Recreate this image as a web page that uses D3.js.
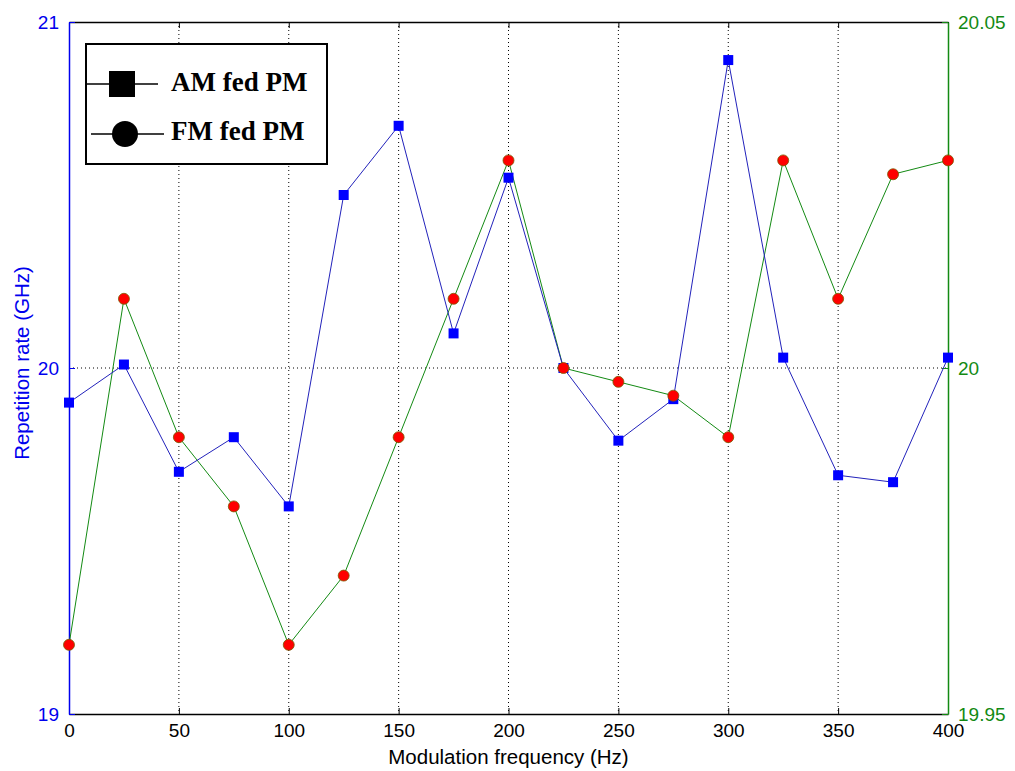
<!DOCTYPE html>
<html>
<head>
<meta charset="utf-8">
<script src="https://cdn.jsdelivr.net/npm/d3@7"></script>
<style>
  body { margin: 0; background: #fff; }
  text { font-family: Arial, "Liberation Sans", sans-serif; }
</style>
</head>
<body>
<div id="chart"></div>
<script>
// modulation frequency (Hz)
var freq = [0, 25, 50, 75, 100, 125, 150, 175, 200, 225, 250, 275, 300, 325, 350, 375, 400];
// AM fed PM, left axis (GHz)
var amFed = [19.90, 20.01, 19.70, 19.80, 19.60, 20.50, 20.70, 20.10, 20.55, 20.00, 19.79, 19.91, 20.89, 20.03, 19.69, 19.67, 20.03];
// FM fed PM, right axis (GHz)
var fmFed = [19.96, 20.01, 19.99, 19.98, 19.96, 19.97, 19.99, 20.01, 20.03, 20.00, 19.998, 19.996, 19.99, 20.03, 20.01, 20.028, 20.03];

var xTicks = [0, 50, 100, 150, 200, 250, 300, 350, 400];
var leftTicks = [19, 20, 21];
var rightTicks = [19.95, 20, 20.05];
var legendNames = ["AM fed PM", "FM fed PM"];

var svgWidth = 1015;
var svgHeight = 771;
var margin = { top: 22, right: 67, bottom: 57, left: 69 };
var width = svgWidth - margin.left - margin.right;
var height = svgHeight - margin.top - margin.bottom;

var blue = "#0000ee";
var green = "#138a13";

var svg = d3.select("#chart")
    .append("svg")
    .attr("width", svgWidth)
    .attr("height", svgHeight);

var chartGroup = svg.append("g")
    .attr("transform", `translate(${margin.left}, ${margin.top})`);

var xScale = d3.scaleLinear().domain([0, 400]).range([0, width]);
var yLeft = d3.scaleLinear().domain([19, 21]).range([height, 0]);
var yRight = d3.scaleLinear().domain([19.95, 20.05]).range([height, 0]);

// grid
chartGroup.selectAll(".vgrid")
    .data(xTicks.slice(1, -1))
    .enter()
    .append("line")
    .attr("x1", d => xScale(d)).attr("x2", d => xScale(d))
    .attr("y1", 0).attr("y2", height)
    .attr("stroke", "#000")
    .attr("stroke-width", 1)
    .attr("stroke-dasharray", "1,3");

chartGroup.append("line")
    .attr("x1", 0).attr("x2", width)
    .attr("y1", yLeft(20)).attr("y2", yLeft(20))
    .attr("stroke", "#000")
    .attr("stroke-dasharray", "1,3");

// axes
var bottomAxis = d3.axisBottom(xScale).tickValues(xTicks).tickSizeInner(-6).tickSizeOuter(0).tickPadding(10);
var topAxis = d3.axisTop(xScale).tickValues(xTicks).tickSizeInner(-6).tickSizeOuter(0).tickFormat("");
var leftAxis = d3.axisLeft(yLeft).tickValues(leftTicks).tickSizeInner(-6).tickSizeOuter(0).tickPadding(10).tickFormat(d3.format("d"));
var rightAxis = d3.axisRight(yRight).tickValues(rightTicks).tickSizeInner(-6).tickSizeOuter(0).tickPadding(10).tickFormat(d => d === 20 ? "20" : d3.format(".2f")(d));

function styleAxis(g, color) {
    g.select(".domain").attr("stroke", color).attr("stroke-width", 1.5);
    g.selectAll(".tick line").attr("stroke", color);
    g.selectAll("text").attr("fill", color).style("font-size", "19px");
}

chartGroup.append("g").attr("transform", `translate(0, ${height})`).call(bottomAxis).call(g => styleAxis(g, "#000"));
chartGroup.append("g").call(topAxis).call(g => styleAxis(g, "#000"));
chartGroup.append("g").call(leftAxis).call(g => styleAxis(g, blue));
chartGroup.append("g").attr("transform", `translate(${width}, 0)`).call(rightAxis).call(g => styleAxis(g, green));

// axis labels
svg.append("text")
    .attr("x", margin.left + width / 2)
    .attr("y", 764)
    .attr("text-anchor", "middle")
    .style("font-size", "20.5px")
    .text("Modulation frequency (Hz)");

svg.append("text")
    .attr("transform", `translate(29, ${margin.top + yLeft(20) - 5}) rotate(-90)`)
    .attr("text-anchor", "middle")
    .attr("fill", blue)
    .style("font-size", "20.5px")
    .text("Repetition rate (GHz)");

// lines
var amLine = d3.line().x((d, i) => xScale(freq[i])).y(d => yLeft(d));
var fmLine = d3.line().x((d, i) => xScale(freq[i])).y(d => yRight(d));

chartGroup.append("path")
    .datum(fmFed)
    .attr("d", fmLine)
    .attr("fill", "none")
    .attr("stroke", green)
    .attr("stroke-width", 1);

chartGroup.append("path")
    .datum(amFed)
    .attr("d", amLine)
    .attr("fill", "none")
    .attr("stroke", "#2222bb")
    .attr("stroke-width", 1);

chartGroup.selectAll(".am")
    .data(amFed)
    .enter()
    .append("rect")
    .attr("x", (d, i) => xScale(freq[i]) - 5)
    .attr("y", d => yLeft(d) - 5)
    .attr("width", 10)
    .attr("height", 10)
    .attr("fill", "#0000ff");

chartGroup.selectAll(".fm")
    .data(fmFed)
    .enter()
    .append("circle")
    .attr("cx", (d, i) => xScale(freq[i]))
    .attr("cy", d => yRight(d))
    .attr("r", 5.5)
    .attr("fill", "#ff0000")
    .attr("stroke", "#7a5a00")
    .attr("stroke-width", 0.8);

// legend
var legend = svg.append("g").attr("transform", "translate(86, 44)");
legend.append("rect")
    .attr("width", 241).attr("height", 120)
    .attr("fill", "#fff").attr("stroke", "#000").attr("stroke-width", 2);

legend.append("line").attr("x1", 0).attr("x2", 72).attr("y1", 40).attr("y2", 40).attr("stroke", "#000").attr("stroke-width", 1.5);
legend.append("rect").attr("x", 23).attr("y", 27).attr("width", 26).attr("height", 26).attr("fill", "#000");
legend.append("line").attr("x1", 5).attr("x2", 78).attr("y1", 90).attr("y2", 90).attr("stroke", "#000").attr("stroke-width", 1.5);
legend.append("circle").attr("cx", 39).attr("cy", 90).attr("r", 13).attr("fill", "#000");

legend.selectAll(".legtext")
    .data(legendNames)
    .enter()
    .append("text")
    .attr("x", 85)
    .attr("y", (d, i) => 47 + i * 49)
    .style("font-family", "'Liberation Serif', 'Times New Roman', serif")
    .style("font-weight", "bold")
    .style("font-size", "27px")
    .text(d => d);
</script>
</body>
</html>
